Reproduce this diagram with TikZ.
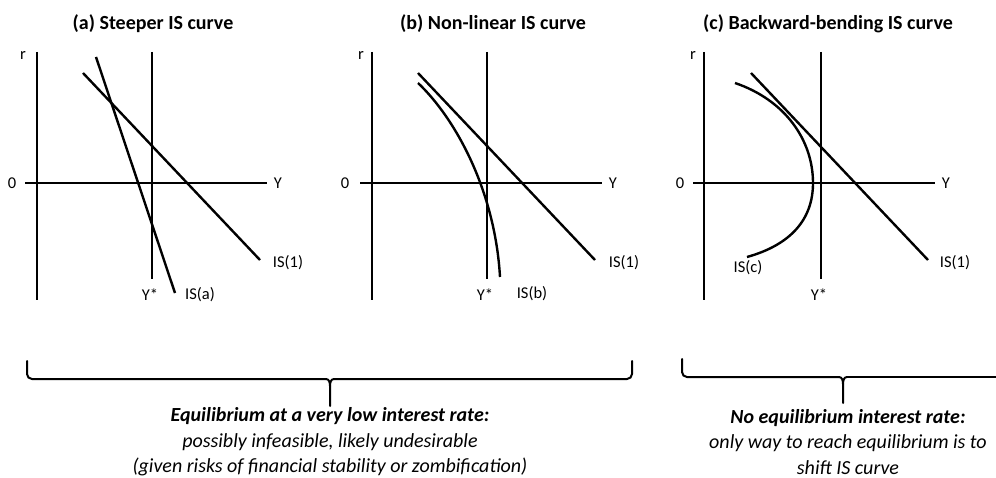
\documentclass[tikz,border=0pt]{standalone}
\usepackage{fontspec}
\setmainfont{Carlito}
\begin{document}
\begin{tikzpicture}[x=1pt,y=-1pt,
  axis/.style={line width=2.4pt,black},
  curve/.style={line width=2.4pt,black},
  brace/.style={line width=2pt,black,line cap=round},
  title/.style={font=\bfseries\fontsize{20}{24}\selectfont,anchor=center,inner sep=0pt},
  lab/.style={font=\fontsize{16.5}{19}\selectfont,inner sep=0pt},
  note/.style={font=\itshape\fontsize{20}{25.5}\selectfont,align=center,anchor=center,inner sep=0pt}]
\useasboundingbox (0,0) rectangle (996,478);
% ---------- panel (a)
\node[title] (ta) at (153,24) {(a) Steeper IS curve};
\draw[axis] (37,52) -- (37,300);
\draw[axis] (25,183) -- (267,183);
\draw[axis] (152,52) -- (152,279);
\node[lab] (ra) at (23,55) {r};
\node[lab] (oa) at (12,183) {0};
\node[lab] (ya) at (278,183) {Y};
\node[lab] (ysa) at (150,295) {Y*};
\draw[curve] (83,73) -- (260,260);
\node[lab] (is1a) at (288,263) {IS(1)};
\draw[curve] (96,57) -- (175,293);
\node[lab] (isa) at (200,295) {IS(a)};
% ---------- panel (b)
\node[title] (tb) at (493,24) {(b) Non-linear IS curve};
\draw[axis] (372,52) -- (372,300);
\draw[axis] (360,183) -- (602,183);
\draw[axis] (487,52) -- (487,279);
\node[lab] (rb) at (361,55) {r};
\node[lab] (ob) at (345,183) {0};
\node[lab] (yb) at (613,183) {Y};
\node[lab] (ysb) at (485,295) {Y*};
\draw[curve] (418,73) -- (595,260);
\node[lab] (is1b) at (624,263) {IS(1)};
\draw[curve] (418,83) .. controls (455,118) and (495,190) .. (500,277);
\node[lab] (isb) at (532,294) {IS(b)};
% ---------- panel (c)
\node[title] (tc) at (828,24) {(c) Backward-bending IS curve};
\draw[axis] (704,52) -- (704,300);
\draw[axis] (693,183) -- (935,183);
\draw[axis] (821,52) -- (821,279);
\node[lab] (rc) at (693,55) {r};
\node[lab] (oc) at (680,183) {0};
\node[lab] (yc) at (946,183) {Y};
\node[lab] (ysc) at (819,295) {Y*};
\draw[curve] (751,73) -- (928,260);
\node[lab] (is1c) at (955,263) {IS(1)};
\draw[curve] (735,83) .. controls (785,100) and (813,140) .. (813,183)
  .. controls (813,220) and (790,245) .. (747,257);
\node[lab] (isc) at (748,268) {IS(c)};
% ---------- braces
\draw[brace,rounded corners=5pt] (27,361) -- (27,379) -- (326,379);
\draw[brace] (326,379) to[out=0,in=90] (330,386) -- (330,406);
\draw[brace] (334,379) to[out=180,in=90] (330,386);
\draw[brace,rounded corners=5pt] (334,379) -- (632,379) -- (632,361);
\coordinate (btipL) at (330,406);
\draw[brace,rounded corners=5pt] (682,359) -- (682,377) -- (839,377);
\draw[brace] (839,377) to[out=0,in=90] (843,384) -- (843,403);
\draw[brace] (847,377) to[out=180,in=90] (843,384);
\draw[brace] (847,377) -- (998,377);
\coordinate (btipR) at (843,403);
% ---------- notes
\node[note] (nl) at (330,442) {\textbf{Equilibrium at a very low interest rate:}\\possibly infeasible, likely undesirable\\(given risks of financial stability or zombification)};
\node[note] (nr) at (848,442) {\textbf{No equilibrium interest rate:}\\only way to reach equilibrium is to\\shift IS curve};
\end{tikzpicture}
\end{document}
